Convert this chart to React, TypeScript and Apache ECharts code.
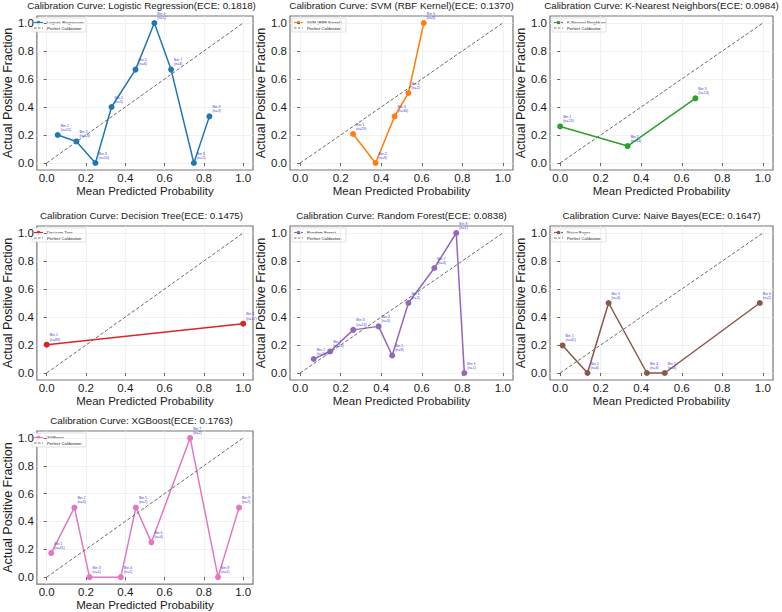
import React, { useEffect, useRef } from "react";
import * as echarts from "echarts";

// ---- Data ----
const modelNames = [
  "Logistic Regression",
  "SVM (RBF Kernel)",
  "K-Nearest Neighbors",
  "Decision Tree",
  "Random Forest",
  "Naive Bayes",
  "XGBoost",
];
const eceValues = ["0.1818", "0.1370", "0.0984", "0.1475", "0.0838", "0.1647", "0.1763"];
const modelColors = ["#1f77b4", "#ff7f0e", "#2ca02c", "#d62728", "#9467bd", "#8c564b", "#e377c2"];

const lrMeanPred = [0.056, 0.151, 0.248, 0.33, 0.452, 0.548, 0.633, 0.749, 0.828];
const lrFracPos = [0.2, 0.154, 0.0, 0.4, 0.667, 1.0, 0.667, 0.0, 0.333];
const lrCounts = [15, 13, 10, 5, 6, 1, 3, 2, 3];

const svmMeanPred = [0.261, 0.372, 0.466, 0.534, 0.61];
const svmFracPos = [0.207, 0.0, 0.333, 0.5, 1.0];
const svmCounts = [29, 9, 30, 2, 3];

const knnMeanPred = [0.0, 0.333, 0.667];
const knnFracPos = [0.261, 0.121, 0.462];
const knnCounts = [23, 33, 13];

const dtMeanPred = [0.0, 1.0];
const dtFracPos = [0.202, 0.352];
const dtCounts = [89, 17];

const rfMeanPred = [0.067, 0.148, 0.262, 0.387, 0.454, 0.534, 0.662, 0.77, 0.81];
const rfFracPos = [0.1, 0.154, 0.308, 0.333, 0.125, 0.5, 0.75, 1.0, 0.0];
const rfCounts = [10, 13, 13, 3, 8, 2, 4, 1, 1];

const nbMeanPred = [0.012, 0.135, 0.239, 0.428, 0.516, 0.985];
const nbFracPos = [0.197, 0.0, 0.5, 0.0, 0.0, 0.5];
const nbCounts = [41, 6, 4, 3, 3, 2];

const xgbMeanPred = [0.023, 0.141, 0.218, 0.377, 0.454, 0.533, 0.73, 0.872, 0.979];
const xgbFracPos = [0.173, 0.5, 0.0, 0.0, 0.5, 0.25, 1.0, 0.0, 0.5];
const xgbCounts = [41, 6, 1, 1, 2, 4, 2, 1, 2];

const meanPredLists = [lrMeanPred, svmMeanPred, knnMeanPred, dtMeanPred, rfMeanPred, nbMeanPred, xgbMeanPred];
const fracPosLists = [lrFracPos, svmFracPos, knnFracPos, dtFracPos, rfFracPos, nbFracPos, xgbFracPos];
const countLists = [lrCounts, svmCounts, knnCounts, dtCounts, rfCounts, nbCounts, xgbCounts];

const tickValues = [0, 0.2, 0.4, 0.6, 0.8, 1.0];
const perfectLine = [
  [0, 0],
  [1, 1],
];

// ---- Layout ----
const FONT = "'Liberation Sans', Arial, sans-serif";
const colLefts = [30, 290, 550];
const rowTops = [16, 226, 431];
const GRID_W = 223;
const GRID_H = 154;

export default function App() {
  const ref = useRef<HTMLDivElement>(null);

  useEffect(() => {
    if (!ref.current) return;
    const chart = echarts.init(ref.current, null, { renderer: "svg" });

    const grids: any[] = [];
    const xAxes: any[] = [];
    const yAxes: any[] = [];
    const series: any[] = [];
    const graphics: any[] = [];

    modelNames.forEach((name, i) => {
      const left = colLefts[i % 3];
      const top = rowTops[Math.floor(i / 3)];
      const color = modelColors[i];
      grids.push({
        left,
        top,
        width: GRID_W,
        height: GRID_H,
        show: true,
        borderColor: "#777",
        borderWidth: 1.2,
        backgroundColor: "#fff",
        containLabel: false,
      });
      const axisCommon = {
        type: "value",
        gridIndex: i,
        min: -0.05,
        max: 1.05,
        axisLine: { show: false },
        axisTick: {
          show: true,
          customValues: tickValues,
          length: 3,
          lineStyle: { color: "#444", width: 0.8 },
        },
        axisLabel: {
          customValues: tickValues,
          formatter: (v: number) => v.toFixed(1),
          fontSize: 11.5,
          color: "#1a1a1a",
          fontFamily: FONT,
        },
        splitLine: { show: true, lineStyle: { color: "#eeeeee", width: 0.8 } },
        nameLocation: "middle",
        nameTextStyle: { fontFamily: FONT, color: "#1a1a1a" },
      };
      xAxes.push({
        ...axisCommon,
        axisLabel: { ...axisCommon.axisLabel, margin: 2 },
        name: "Mean Predicted Probability",
        nameGap: 13,
        nameTextStyle: { ...axisCommon.nameTextStyle, fontSize: 11.5 },
      });
      yAxes.push({
        ...axisCommon,
        axisLabel: { ...axisCommon.axisLabel, margin: 3 },
        name: "Actual Positive Fraction",
        nameGap: 16,
        nameTextStyle: { ...axisCommon.nameTextStyle, fontSize: 12.5 },
      });

      const counts = countLists[i];
      series.push({
        name,
        type: "line",
        xAxisIndex: i,
        yAxisIndex: i,
        data: meanPredLists[i].map((x, j) => [x, fracPosLists[i][j]]),
        symbol: "circle",
        symbolSize: 6,
        lineStyle: { color, width: 1.5 },
        itemStyle: { color },
        z: 3,
        label: {
          show: true,
          position: "top",
          align: "left",
          distance: 0,
          offset: [3, 0],
          fontSize: 3.6,
          lineHeight: 4.3,
          color: "#4545d8",
          fontFamily: FONT,
          formatter: (p: any) => `Bin ${p.dataIndex + 1}\n(n=${counts[p.dataIndex]})`,
        },
      });
      series.push({
        name: "Perfect Calibration",
        type: "line",
        xAxisIndex: i,
        yAxisIndex: i,
        data: perfectLine,
        symbol: "none",
        silent: true,
        z: 4,
        lineStyle: { color: "#6a6a6a", width: 1, type: [3.5, 2] },
      });

      // title
      graphics.push({
        type: "text",
        x: left + GRID_W / 2,
        y: top - 11,
        style: {
          text: `Calibration Curve: ${name}(ECE: ${eceValues[i]})`,
          fontSize: 9.8,
          fontFamily: FONT,
          fill: "#1a1a1a",
          textAlign: "center",
          textVerticalAlign: "middle",
        },
      });

      // legend
      const lx = left + 2;
      const ly = top + 2;
      graphics.push({
        type: "group",
        x: lx,
        y: ly,
        z: 100,
        children: [
          {
            type: "rect",
            shape: { x: 0, y: 0, width: 54, height: 14, r: 1 },
            style: { fill: "rgba(255,255,255,0.9)", stroke: "#cfcfcf", lineWidth: 0.6 },
          },
          {
            type: "line",
            shape: { x1: 2, y1: 4.5, x2: 11, y2: 4.5 },
            style: { stroke: color, lineWidth: 1.2 },
          },
          {
            type: "circle",
            shape: { cx: 6.5, cy: 4.5, r: 1.8 },
            style: { fill: color },
          },
          {
            type: "text",
            x: 15,
            y: 4.5,
            style: {
              text: name,
              fontSize: 4.2,
              fontFamily: FONT,
              fill: "#222",
              textVerticalAlign: "middle",
            },
          },
          {
            type: "line",
            shape: { x1: 2, y1: 10, x2: 11, y2: 10 },
            style: { stroke: "#666", lineWidth: 0.9, lineDash: [2.5, 1.5] },
          },
          {
            type: "text",
            x: 15,
            y: 10,
            style: {
              text: "Perfect Calibration",
              fontSize: 4.2,
              fontFamily: FONT,
              fill: "#222",
              textVerticalAlign: "middle",
            },
          },
        ],
      });
    });

    chart.setOption({
      animation: false,
      backgroundColor: "#fff",
      textStyle: { fontFamily: FONT },
      grid: grids,
      xAxis: xAxes,
      yAxis: yAxes,
      series,
      graphic: graphics,
    });

    return () => chart.dispose();
  }, []);

  return (
    <div
      ref={ref}
      style={{ position: "fixed", left: 0, top: 0, width: 782, height: 612, background: "#fff" }}
    />
  );
}
